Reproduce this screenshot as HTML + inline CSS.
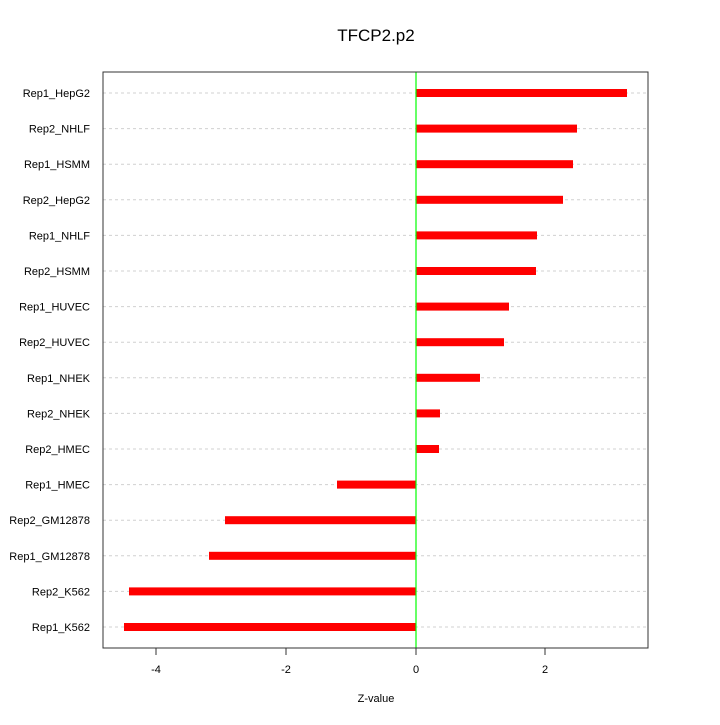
<!DOCTYPE html>
<html><head><style>body{margin:0;background:#fff}</style></head><body>
<svg width="720" height="720" xmlns="http://www.w3.org/2000/svg" font-family="Liberation Sans, sans-serif">
<rect width="720" height="720" fill="#fff"/>
<text x="376" y="41" font-size="17" text-anchor="middle">TFCP2.p2</text>
<g stroke="#d0d0d0" stroke-dasharray="3,3" stroke-width="1">
<line x1="103" x2="648" y1="93" y2="93"/><line x1="103" x2="648" y1="128.6" y2="128.6"/><line x1="103" x2="648" y1="164.2" y2="164.2"/><line x1="103" x2="648" y1="199.8" y2="199.8"/><line x1="103" x2="648" y1="235.4" y2="235.4"/><line x1="103" x2="648" y1="271" y2="271"/><line x1="103" x2="648" y1="306.6" y2="306.6"/><line x1="103" x2="648" y1="342.2" y2="342.2"/><line x1="103" x2="648" y1="377.8" y2="377.8"/><line x1="103" x2="648" y1="413.4" y2="413.4"/><line x1="103" x2="648" y1="449" y2="449"/><line x1="103" x2="648" y1="484.6" y2="484.6"/><line x1="103" x2="648" y1="520.2" y2="520.2"/><line x1="103" x2="648" y1="555.8" y2="555.8"/><line x1="103" x2="648" y1="591.4" y2="591.4"/><line x1="103" x2="648" y1="627" y2="627"/>
</g>
<g fill="#ff0000">
<rect x="416" y="89" width="211" height="8"/>
<rect x="416" y="124.6" width="161" height="8"/>
<rect x="416" y="160.2" width="157" height="8"/>
<rect x="416" y="195.8" width="147" height="8"/>
<rect x="416" y="231.4" width="121" height="8"/>
<rect x="416" y="267" width="120" height="8"/>
<rect x="416" y="302.6" width="93" height="8"/>
<rect x="416" y="338.2" width="88" height="8"/>
<rect x="416" y="373.8" width="64" height="8"/>
<rect x="416" y="409.4" width="24" height="8"/>
<rect x="416" y="445" width="23" height="8"/>
<rect x="337" y="480.6" width="79" height="8"/>
<rect x="225" y="516.2" width="191" height="8"/>
<rect x="209" y="551.8" width="207" height="8"/>
<rect x="129" y="587.4" width="287" height="8"/>
<rect x="124" y="623" width="292" height="8"/>
</g>
<line x1="416" x2="416" y1="72" y2="648" stroke="#00ff00" stroke-width="1.2"/>
<rect x="103" y="72" width="545" height="576" fill="none" stroke="#333" stroke-width="1"/>
<g stroke="#333"><line x1="156" x2="156" y1="648" y2="655"/><line x1="286" x2="286" y1="648" y2="655"/><line x1="416" x2="416" y1="648" y2="655"/><line x1="545" x2="545" y1="648" y2="655"/></g>
<g font-size="11" text-anchor="middle"><text x="156" y="673">-4</text><text x="286" y="673">-2</text><text x="416" y="673">0</text><text x="545" y="673">2</text>
<text x="376" y="702">Z-value</text></g>
<g font-size="11" text-anchor="end">
<text x="90" y="97">Rep1_HepG2</text><text x="90" y="132.6">Rep2_NHLF</text><text x="90" y="168.2">Rep1_HSMM</text><text x="90" y="203.8">Rep2_HepG2</text><text x="90" y="239.4">Rep1_NHLF</text><text x="90" y="275">Rep2_HSMM</text><text x="90" y="310.6">Rep1_HUVEC</text><text x="90" y="346.2">Rep2_HUVEC</text><text x="90" y="381.8">Rep1_NHEK</text><text x="90" y="417.4">Rep2_NHEK</text><text x="90" y="453">Rep2_HMEC</text><text x="90" y="488.6">Rep1_HMEC</text><text x="90" y="524.2">Rep2_GM12878</text><text x="90" y="559.8">Rep1_GM12878</text><text x="90" y="595.4">Rep2_K562</text><text x="90" y="631">Rep1_K562</text>
</g>
</svg>
</body></html>
